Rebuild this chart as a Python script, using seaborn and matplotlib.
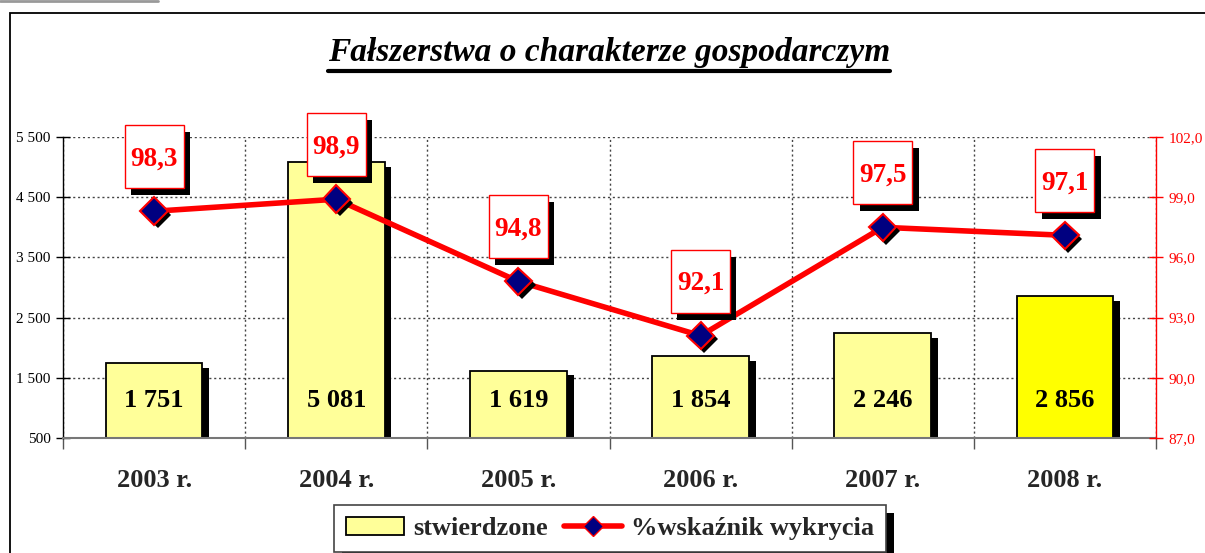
import numpy as np
import pandas as pd
import matplotlib
matplotlib.use("Agg")
import matplotlib.pyplot as plt
import matplotlib.patheffects as pe
import matplotlib.transforms as mtransforms
from matplotlib.patches import Rectangle, Patch
from matplotlib.lines import Line2D
import seaborn as sns

# ---- data ----
years = ["2003 r.", "2004 r.", "2005 r.", "2006 r.", "2007 r.", "2008 r."]
stwierdzone = [1751, 5081, 1619, 1854, 2246, 2856]
wskaznik = [98.3, 98.9, 94.8, 92.1, 97.5, 97.1]
left_ticks = [500, 1500, 2500, 3500, 4500, 5500]
right_ticks = [87.0, 90.0, 93.0, 96.0, 99.0, 102.0]
title = "Fałszerstwa o charakterze gospodarczym"
legend_labels = ["stwierdzone", "%wskaźnik wykrycia"]
bar_colors = ["#FFFF99", "#FFFF99", "#FFFF99", "#FFFF99", "#FFFF99", "#FFFF00"]

sns.set_theme(style="white")
plt.rcParams['font.family'] = ['Liberation Serif', 'DejaVu Serif']

W, H = 1205, 553
fig = plt.figure(figsize=(W / 100, H / 100), dpi=100)
ax = fig.add_axes([63 / W, 1 - 438 / H, (1156 - 63) / W, (438 - 137) / H])

df = pd.DataFrame({"rok": years, "stwierdzone": stwierdzone, "wskaznik": wskaznik})
sns.barplot(data=df, x="rok", y="stwierdzone", hue="rok", palette=bar_colors,
            legend=False, width=0.53, edgecolor="black", linewidth=1.3,
            saturation=1, ax=ax, zorder=2)
bar_shadow = [pe.SimplePatchShadow(offset=(5, -3.5), shadow_rgbFace="black", alpha=1), pe.Normal()]
for p in ax.patches:
    p.set_path_effects(bar_shadow)

ax.set_xlim(-0.5, len(years) - 0.5)
ax.set_ylim(left_ticks[0], left_ticks[-1])
ax.set_xlabel("")
ax.set_ylabel("")
ax.set_axisbelow(True)

# bar value labels
for i, v in enumerate(stwierdzone):
    ax.text(i, 0.123, f"{v:,}".replace(",", " "), transform=ax.get_xaxis_transform(),
            ha="center", va="center", fontsize=19, fontweight="bold", color="black", zorder=5)

# y-axis left
ax.set_yticks(left_ticks)
ax.set_yticklabels([f"{v:,}".replace(",", " ") for v in left_ticks])
ax.tick_params(axis="y", left=True, direction="inout", length=10, width=1,
               color="black", labelsize=11, pad=4, labelcolor="black")
ax.yaxis.grid(True, ls=(0, (1.5, 2)), color="#444", lw=1)

# x-axis
ax.set_xticks(np.arange(len(years)))
ax.set_xticklabels(years, fontweight="bold", fontsize=19)
ax.set_xticks(np.arange(-0.5, len(years), 1), minor=True)
ax.tick_params(axis="x", which="major", bottom=False, length=0, pad=22)
ax.tick_params(axis="x", which="minor", bottom=True, direction="out", length=8,
               width=1, color="#555")
ax.xaxis.grid(True, which="minor", ls=(0, (1.5, 2)), color="#444", lw=1)
ax.xaxis.grid(False, which="major")

for s in ["top", "right"]:
    ax.spines[s].set_visible(False)
ax.spines["left"].set_color("black")
ax.spines["left"].set_linewidth(1)
ax.spines["bottom"].set_color("#777")
ax.spines["bottom"].set_linewidth(1.5)

# ---- secondary axis line ----
ax2 = ax.twinx()
pos = np.arange(len(years))
sns.lineplot(x=pos, y=wskaznik, ax=ax2, color="red", lw=4, legend=False, zorder=3)
ax2.plot(pos, wskaznik, ls="none", marker="D", ms=14, mfc="#000080", mec="red", mew=1.5,
         zorder=4,
         path_effects=[pe.SimplePatchShadow(offset=(2.5, -2.5), shadow_rgbFace="black",
                                            alpha=1, foreground="black"), pe.Normal()])
ax2.set_ylim(right_ticks[0], right_ticks[-1])
ax2.set_yticks(right_ticks)
ax2.set_yticklabels([f"{v:.1f}".replace(".", ",") for v in right_ticks])
ax2.tick_params(axis="y", right=True, direction="inout", length=10, width=1,
                colors="red", labelsize=11, pad=4)
ax2.set_ylabel("")
ax2.grid(False)
for s in ["top", "left", "bottom"]:
    ax2.spines[s].set_visible(False)
ax2.spines["right"].set_color("red")
ax2.spines["right"].set_linewidth(1)

# data label boxes
box_shadow = [pe.SimplePatchShadow(offset=(4.5, -5), shadow_rgbFace="black", alpha=1), pe.Normal()]
bw, bh, gap = 0.59, 0.63, 0.23
for i, v in enumerate(wskaznik):
    trans = fig.dpi_scale_trans + mtransforms.ScaledTranslation(i, v, ax2.transData)
    r = Rectangle((-bw / 2, gap), bw, bh, transform=trans, fc="white", ec="red", lw=1,
                  zorder=5, path_effects=box_shadow)
    fig.add_artist(r)
    fig.text(0, gap + bh / 2 - 0.02, f"{v:.1f}".replace(".", ","), transform=trans,
             ha="center", va="center", fontsize=19.5, fontweight="bold", color="red", zorder=6)

# ---- legend ----
handles = [Patch(fc="#FFFF99", ec="black", lw=1.3),
           Line2D([], [], color="red", lw=4, marker="D", ms=10, mfc="#000080", mec="red", mew=1)]
leg = fig.legend(handles, legend_labels, loc="upper center", bbox_to_anchor=(610 / W, 1 - 505 / H),
                 ncol=2, frameon=True, fancybox=False, edgecolor="#444", framealpha=1,
                 prop=dict(weight="bold", size=19), handlelength=2.2, handletextpad=0.35,
                 columnspacing=0.6, borderpad=0.45, borderaxespad=0)
leg.get_frame().set_linewidth(1.2)
leg.get_frame().set_path_effects([pe.SimplePatchShadow(offset=(6, -6), shadow_rgbFace="black", alpha=1),
                                  pe.Normal()])

# ---- title with underline ----
t = fig.text(609 / W, 1 - 53 / H, title, ha="center", va="center", fontsize=24,
             fontweight="bold", fontstyle="italic", color="black")
fig.canvas.draw()
bb = t.get_window_extent()
fig.add_artist(Line2D([bb.x0, bb.x1], [H - 71, H - 71], transform=mtransforms.IdentityTransform(),
                      color="black", lw=3))

# ---- outer frame ----
fig.add_artist(Rectangle((10 / W, -0.05), 1.2, (H - 13) / H + 0.05, transform=fig.transFigure,
                         fill=False, ec="black", lw=1.3, zorder=0))
fig.add_artist(Line2D([0, 158 / W], [1 - 1 / H, 1 - 1 / H], transform=fig.transFigure,
                      color="#999", lw=2))

fig.savefig("out.png", dpi=100)
